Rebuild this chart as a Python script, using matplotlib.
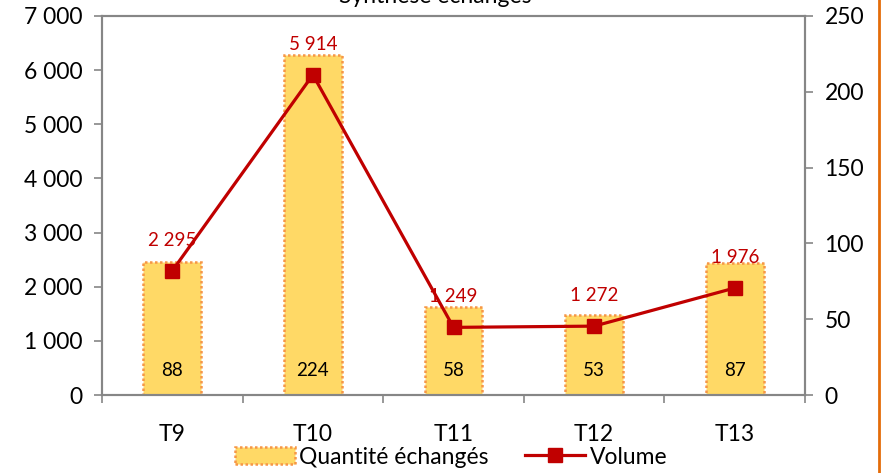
import matplotlib.pyplot as plt
from matplotlib.lines import Line2D
from matplotlib.patches import Patch
from matplotlib.ticker import FuncFormatter, FixedLocator

plt.rcParams['font.family'] = ['Lato', 'DejaVu Sans']

trimestres = ['T9', 'T10', 'T11', 'T12', 'T13']
quantite = [88, 224, 58, 53, 87]          # barres, axe de droite
volume = [2295, 5914, 1249, 1272, 1976]   # courbe, axe de gauche

gris = '#868686'
rouge = '#C00000'

fig = plt.figure(figsize=(8.88, 4.73), dpi=100)
ax = fig.add_axes([102/888, 1-395/473, 703/888, 379/473])
ax2 = ax.twinx()
ax.set_zorder(ax2.get_zorder() + 1)
ax.patch.set_visible(False)

x = list(range(len(trimestres)))

ax2.bar(x, quantite, width=0.41, color='#FFD966', edgecolor='#F79646',
        linestyle=(0, (1, 1)), linewidth=1.8)
for xi, q in zip(x, quantite):
    ax2.annotate(f'{q}', (xi, 0), xytext=(0, 18), textcoords='offset points',
                 ha='center', va='center', fontsize=13.5, color='black')

ax.plot(x, volume, color=rouge, linewidth=2.3, marker='s', markersize=10)
for xi, v in zip(x, volume):
    ax.annotate(f'{v:,}'.replace(',', ' '), (xi, v), xytext=(0, 22),
                textcoords='offset points', ha='center', va='center',
                fontsize=13.5, color=rouge)

ax.set_xlim(-0.5, len(trimestres) - 0.5)
ax.set_ylim(0, 7000)
ax2.set_ylim(0, 250)
ax.set_yticks(range(0, 7001, 1000))
ax2.set_yticks(range(0, 251, 50))
ax.yaxis.set_major_formatter(FuncFormatter(lambda v, p: f'{int(v):,}'.replace(',', ' ')))

ax.set_xticks(x)
ax.set_xticklabels(trimestres)
ax.xaxis.set_minor_locator(FixedLocator([i - 0.5 for i in range(len(trimestres) + 1)]))
ax.tick_params(axis='x', which='major', length=0, pad=21, labelsize=16.5)
ax.tick_params(axis='x', which='minor', length=6, color=gris, width=1.2)
ax.tick_params(axis='y', length=6, color=gris, width=1.2, labelsize=16.5, pad=8)
ax2.tick_params(axis='y', length=6, color=gris, width=1.2, labelsize=16.5, pad=8)

for a in (ax, ax2):
    for s in a.spines.values():
        s.set_color(gris)
        s.set_linewidth(1.5)

fig.text(435/888, 1 - 3/473, 'Synthèse échanges', ha='center', va='baseline', fontsize=16.5)

handles = [Patch(facecolor='#FFD966', edgecolor='#F79646', linestyle=(0, (1, 1)), linewidth=1.8),
           Line2D([0], [0], color=rouge, linewidth=2.3, marker='s', markersize=10)]
fig.legend(handles, ['Quantité échangés', 'Volume'], loc='center',
           bbox_to_anchor=(451/888, 1 - 457/473), ncol=2, frameon=False,
           fontsize=16.5, handlelength=2.6, handletextpad=0.2, columnspacing=1.6,
           borderpad=0, borderaxespad=0)

fig.add_artist(Line2D([879/888, 879/888], [0, 1], transform=fig.transFigure,
                      color='#E46C0A', linewidth=2))

fig.savefig('out.png', dpi=100)
